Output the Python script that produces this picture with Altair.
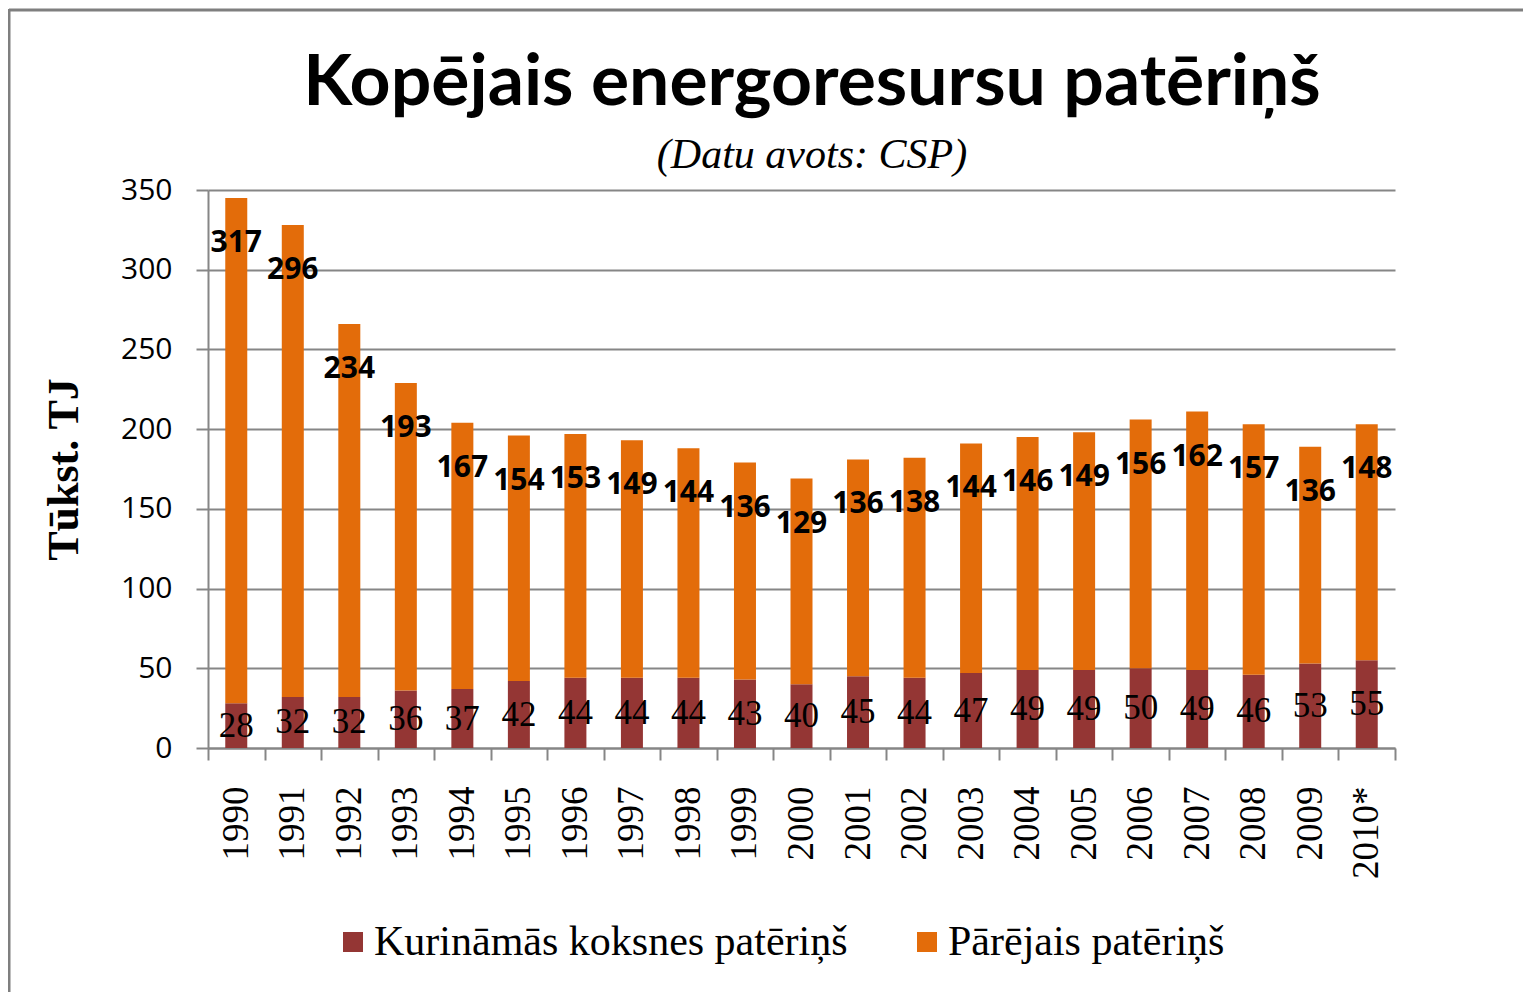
import altair as alt
import pandas as pd

years = ["1990", "1991", "1992", "1993", "1994", "1995", "1996", "1997", "1998", "1999",
         "2000", "2001", "2002", "2003", "2004", "2005", "2006", "2007", "2008", "2009", "2010*"]
wood = [28, 32, 32, 36, 37, 42, 44, 44, 44, 43, 40, 45, 44, 47, 49, 49, 50, 49, 46, 53, 55]
other = [317, 296, 234, 193, 167, 154, 153, 149, 144, 136, 129, 136, 138, 144, 146, 149, 156, 162, 157, 136, 148]

title_text = "Kopējais energoresursu patēriņš"
subtitle_text = "(Datu avots: CSP)"
s_wood = "Kurināmās koksnes patēriņš"
s_other = "Pārējais patēriņš"
c_wood = "#943634"
c_other = "#E36C0A"

long_rows = []
for y, w, o in zip(years, wood, other):
    long_rows.append({"year": y, "series": s_wood, "value": w, "ord": 0})
    long_rows.append({"year": y, "series": s_other, "value": o, "ord": 1})
long_df = pd.DataFrame(long_rows)
wide_df = pd.DataFrame({"year": years, "wood": wood, "other": other})

grid_c = "#868686"

x_enc = alt.X("year:N", sort=years,
              scale=alt.Scale(paddingInner=0, paddingOuter=0),
              axis=alt.Axis(title=None, labelAngle=-90, labelFont="Liberation Serif",
                            labelFontSize=37, labelColor="black", labelPadding=26,
                            tickSize=12, tickBand="extent", tickColor=grid_c, tickWidth=2,
                            domainColor=grid_c, domainWidth=2, grid=False))

bars = alt.Chart(long_df).mark_bar(size=22).encode(
    x=x_enc,
    y=alt.Y("value:Q", stack="zero",
            scale=alt.Scale(domain=[0, 350], nice=False),
            axis=alt.Axis(values=list(range(0, 351, 50)), title="Tūkst. TJ",
                          titleFont="Liberation Serif", titleFontSize=44, titleFontWeight="bold",
                          titleColor="black", titlePadding=34,
                          labelFont="Open Sans", labelFontSize=30, labelColor="black",
                          labelPadding=24, tickSize=12, tickColor=grid_c, tickWidth=2,
                          domainColor=grid_c, domainWidth=2,
                          grid=True, gridColor=grid_c, gridWidth=2)),
    color=alt.Color("series:N", scale=alt.Scale(domain=[s_wood, s_other], range=[c_wood, c_other]),
                    legend=alt.Legend(title=None, orient="none", legendX=124, legendY=731,
                                      direction="horizontal", symbolType="square", symbolSize=400,
                                      symbolStrokeWidth=0, labelFont="Liberation Serif",
                                      labelFontSize=42, labelColor="black", labelLimit=0,
                                      columnPadding=58, labelOffset=0)),
    order=alt.Order("ord:Q"),
)

top_labels = alt.Chart(wide_df).transform_calculate(
    total="datum.wood + datum.other"
).mark_text(font="Open Sans", fontWeight="bold", fontSize=30, color="black",
            baseline="middle", dy=45).encode(
    x=alt.X("year:N", sort=years),
    y=alt.Y("total:Q"),
    text=alt.Text("other:Q"),
)

bottom_labels = alt.Chart(wide_df).transform_calculate(
    mid="datum.wood / 2"
).mark_text(font="Liberation Serif", fontSize=35, color="black", baseline="middle").encode(
    x=alt.X("year:N", sort=years),
    y=alt.Y("mid:Q"),
    text=alt.Text("wood:Q"),
)

one = pd.DataFrame({"t": [title_text], "s": [subtitle_text]})
title_mark = alt.Chart(one).mark_text(font="Lato", fontSize=71.5, fontWeight="bold", color="black",
                                      baseline="alphabetic", align="center").encode(
    x=alt.value(604), y=alt.value(-85), text="t:N")
subtitle_mark = alt.Chart(one).mark_text(font="Liberation Serif", fontSize=42, fontStyle="italic",
                                         color="black", baseline="alphabetic", align="center").encode(
    x=alt.value(604), y=alt.value(-22), text="s:N")

border_top = alt.Chart(one).mark_rule(color="#7f7f7f", strokeWidth=3).encode(
    x=alt.value(-199), x2=alt.value(1330), y=alt.value(-180))
border_left = alt.Chart(one).mark_rule(color="#7f7f7f", strokeWidth=3).encode(
    x=alt.value(-199), y=alt.value(-181), y2=alt.value(820))

chart = alt.layer(bars, top_labels, bottom_labels, title_mark, subtitle_mark,
                  border_top, border_left).properties(
    width=1187, height=558,
    autosize=alt.AutoSizeParams(type="none"),
    padding={"left": 200, "top": 182, "right": 128, "bottom": 244},
).configure_view(stroke=None)

chart.save("out.html", embed_options={"renderer": "svg", "actions": False})
